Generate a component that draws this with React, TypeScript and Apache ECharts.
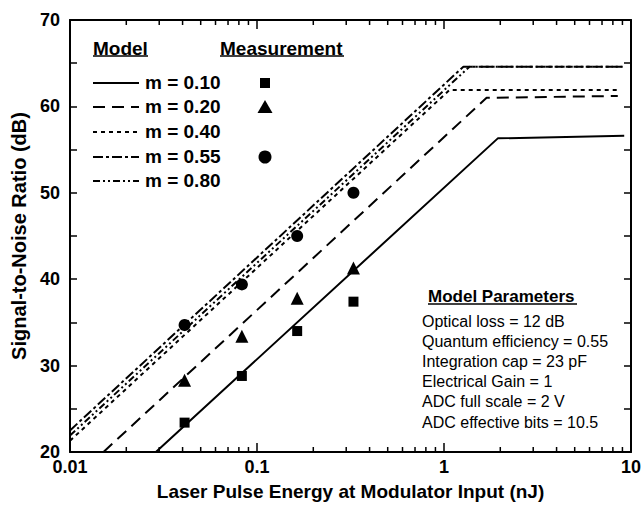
import React, { useEffect, useRef } from "react";
import * as echarts from "echarts";

// ---- data ----
const xMinorTicks = [0.02, 0.03, 0.04, 0.05, 0.06, 0.07, 0.08, 0.09, 0.2, 0.3, 0.4, 0.5, 0.6, 0.7, 0.8, 0.9, 2, 3, 4, 5, 6, 7, 8, 9];
const yTicks = { min: 20, max: 70, interval: 10 };

const modelM010 = [[0.0288, 20], [1.94, 56.3], [9.2, 56.6]];
const modelM020 = [[0.0151, 20], [1.69, 61.0], [8.5, 61.2]];
const modelM040 = [[0.01, 21.3], [1.07, 61.9], [8.7, 61.9]];
const modelM055 = [[0.01, 22.5], [1.27, 64.6], [9.2, 64.6]];
const modelM080 = [[0.01, 21.9], [1.37, 64.6], [9.2, 64.6]];

const energyMeas = [0.041, 0.083, 0.164, 0.328];
const snrMeasM010 = [23.4, 28.8, 34.0, 37.4];
const snrMeasM020 = [28.3, 33.4, 37.8, 41.3];
const snrMeasM055 = [34.7, 39.4, 45.0, 50.0];

const legendLabels = ["m = 0.10", "m = 0.20", "m = 0.40", "m = 0.55", "m = 0.80"];
const paramLines = [
  "Optical loss = 12 dB",
  "Quantum efficiency = 0.55",
  "Integration cap = 23 pF",
  "Electrical Gain = 1",
  "ADC full scale = 2 V",
  "ADC effective bits = 10.5",
];

const FONT = "'Liberation Sans', Arial, Helvetica, sans-serif";
const DASHES: (number[] | "solid")[] = ["solid", [12, 7], [4, 4], [10, 3, 3, 3], [7, 3, 2, 3, 2, 3]];

export default function App() {
  const ref = useRef<HTMLDivElement>(null);
  useEffect(() => {
    document.body.style.margin = "0";
    const chart = echarts.init(ref.current!, null, { renderer: "svg" });
    const black = "#000";
    const lineSeries = [modelM010, modelM020, modelM040, modelM055, modelM080].map((d, i) => ({
      type: "line",
      name: legendLabels[i],
      data: d,
      showSymbol: false,
      symbol: "none",
      lineStyle: { color: black, width: 2, type: DASHES[i] },
      z: 3,
    }));
    const scatter = (vals: number[], symbol: string, size: number) => ({
      type: "scatter",
      data: energyMeas.map((e, i) => [e, vals[i]]),
      symbol,
      symbolSize: size,
      itemStyle: { color: black, opacity: 1 },
      z: 4,
    });

    const legendGraphics: any[] = [];
    const rowY = [83, 107, 132, 157, 181];
    legendGraphics.push(
      { type: "text", left: 93, top: 39, style: { text: "Model", font: `bold 19px ${FONT}`, fill: black } },
      { type: "line", shape: { x1: 93, y1: 56, x2: 148, y2: 56 }, style: { stroke: black, lineWidth: 1.5 } },
      { type: "text", left: 220, top: 39, style: { text: "Measurement", font: `bold 19px ${FONT}`, fill: black } },
      { type: "line", shape: { x1: 220, y1: 56, x2: 344, y2: 56 }, style: { stroke: black, lineWidth: 1.5 } }
    );
    legendLabels.forEach((lab, i) => {
      const d = DASHES[i];
      legendGraphics.push({
        type: "line",
        shape: { x1: 93, y1: rowY[i], x2: 139, y2: rowY[i] },
        style: { stroke: black, lineWidth: 2, lineDash: d === "solid" ? null : d },
      });
      legendGraphics.push({
        type: "text",
        left: 145,
        top: rowY[i] - 10,
        style: { text: lab, font: `bold 19px ${FONT}`, fill: black },
      });
    });
    legendGraphics.push(
      { type: "rect", shape: { x: 260, y: 78, width: 10, height: 10 }, style: { fill: black } },
      { type: "polygon", shape: { points: [[265, 100], [272.5, 113], [257.5, 113]] }, style: { fill: black } },
      { type: "circle", shape: { cx: 265, cy: 157, r: 6.5 }, style: { fill: black } }
    );
    // model parameters box
    legendGraphics.push(
      { type: "text", left: 428, top: 288, style: { text: "Model Parameters", font: `bold 17px ${FONT}`, fill: black } },
      { type: "line", shape: { x1: 428, y1: 304, x2: 577, y2: 304 }, style: { stroke: black, lineWidth: 1.5 } }
    );
    paramLines.forEach((t, i) => {
      legendGraphics.push({
        type: "text",
        left: 422,
        top: 313 + i * 20.2,
        style: { text: t, font: `16px ${FONT}`, fill: black },
      });
    });

    const xAxisBase = {
      type: "log",
      logBase: 10,
      min: 0.01,
      max: 10,
      splitLine: { show: false },
      axisLine: { show: true, lineStyle: { color: black, width: 2 } },
      axisTick: { show: true, inside: true, length: 9, lineStyle: { color: black, width: 1.5 } },
    };
    const yAxisBase = {
      type: "value",
      min: yTicks.min,
      max: yTicks.max,
      interval: yTicks.interval,
      splitLine: { show: false },
      axisLine: { show: true, lineStyle: { color: black, width: 2 } },
      axisTick: { show: true, inside: true, length: 7, lineStyle: { color: black, width: 1.5 } },
      minorTick: { show: true, splitNumber: 2, length: 7, lineStyle: { color: black, width: 1.5 } },
    };

    chart.setOption({
      animation: false,
      backgroundColor: "#fff",
      grid: { left: 70, right: 12, top: 20, bottom: 54, containLabel: false },
      xAxis: [
        {
          ...xAxisBase,
          position: "bottom",
          name: "Laser Pulse Energy at Modulator Input (nJ)",
          nameLocation: "middle",
          nameGap: 30,
          nameTextStyle: { fontFamily: FONT, fontWeight: "bold", fontSize: 19, color: black },
          axisLabel: {
            show: true,
            margin: 6,
            fontFamily: FONT,
            fontWeight: "bold",
            fontSize: 18,
            color: black,
            formatter: (v: number) => (v >= 1 ? String(Math.round(v)) : String(parseFloat(v.toPrecision(2)))),
          },
        },
        { ...xAxisBase, position: "top", axisLabel: { show: false } },
      ],
      yAxis: [
        {
          ...yAxisBase,
          position: "left",
          name: "Signal-to-Noise Ratio (dB)",
          nameLocation: "middle",
          nameRotate: 90,
          nameGap: 36,
          nameTextStyle: { fontFamily: FONT, fontWeight: "bold", fontSize: 20, color: black },
          axisLabel: { show: true, margin: 10, fontFamily: FONT, fontWeight: "bold", fontSize: 18, color: black },
        },
        { ...yAxisBase, position: "right", axisLabel: { show: false } },
      ],
      series: [
        ...lineSeries,
        scatter(snrMeasM010, "rect", 10),
        scatter(snrMeasM020, "triangle", 13),
        scatter(snrMeasM055, "circle", 12),
        {
          type: "custom",
          silent: true,
          clip: false,
          data: xMinorTicks.map((v) => [v, yTicks.min]),
          renderItem: (params: any, api: any) => {
            const v = api.value(0);
            const pb = api.coord([v, yTicks.min]);
            const pt = api.coord([v, yTicks.max]);
            return {
              type: "group",
              children: [
                { type: "line", shape: { x1: pb[0], y1: pb[1], x2: pb[0], y2: pb[1] - 5 }, style: { stroke: black, lineWidth: 1.5 } },
                { type: "line", shape: { x1: pt[0], y1: pt[1], x2: pt[0], y2: pt[1] + 5 }, style: { stroke: black, lineWidth: 1.5 } },
              ],
            };
          },
        },
      ],
      graphic: legendGraphics,
    });
    return () => chart.dispose();
  }, []);
  return <div ref={ref} style={{ width: 644, height: 506 }} />;
}
